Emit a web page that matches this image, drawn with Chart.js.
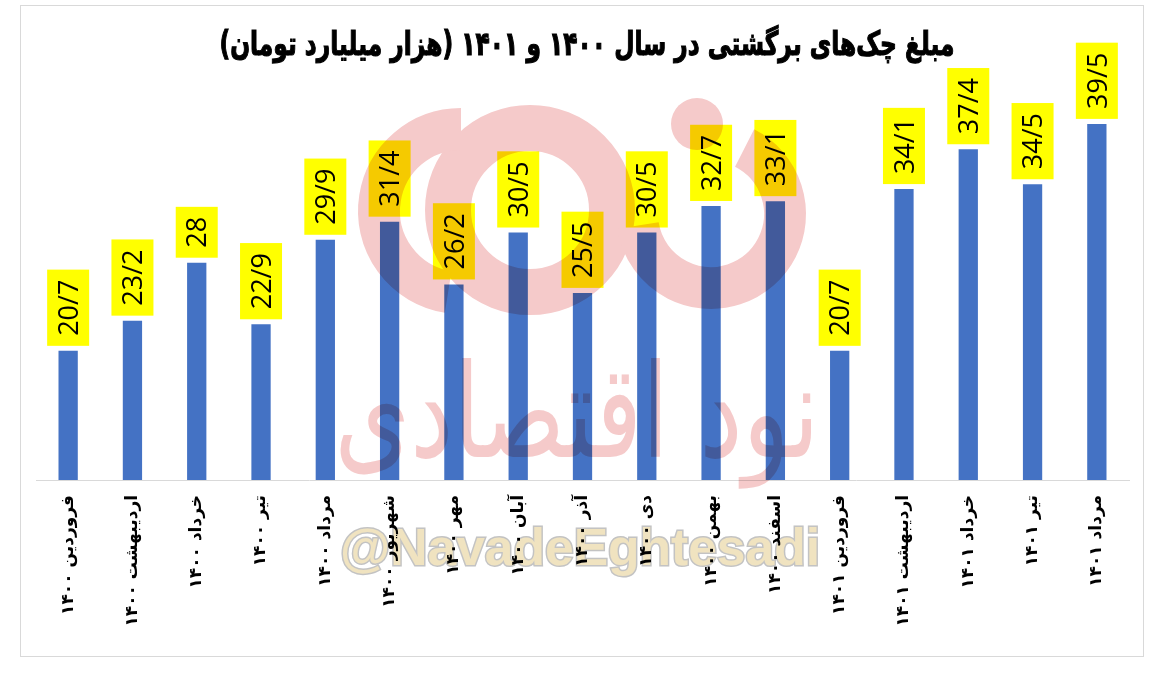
<!DOCTYPE html>
<html>
<head>
<meta charset="utf-8">
<script src="https://cdn.jsdelivr.net/npm/chart.js@4.4.0/dist/chart.umd.min.js"></script>
<style>
  html, body { margin: 0; background: #fff; }
  #frame { position: absolute; left: 20px; top: 5px; width: 1124px; height: 652px; border: 1px solid #d9d9d9; box-sizing: border-box; }
</style>
</head>
<body>
<div id="frame"><canvas id="chequeChart" width="1122" height="650"></canvas></div>
<script>
const months = [
  'فروردین ۱۴۰۰', 'اردیبهشت ۱۴۰۰', 'خرداد ۱۴۰۰', 'تیر ۱۴۰۰', 'مرداد ۱۴۰۰', 'شهریور ۱۴۰۰',
  'مهر ۱۴۰۰', 'آبان ۱۴۰۰', 'آذر ۱۴۰۰', 'دی ۱۴۰۰', 'بهمن ۱۴۰۰', 'اسفند ۱۴۰۰',
  'فروردین ۱۴۰۱', 'اردیبهشت ۱۴۰۱', 'خرداد ۱۴۰۱', 'تیر ۱۴۰۱', 'مرداد ۱۴۰۱'
];
const values = [20.7, 23.2, 28, 22.9, 29.9, 31.4, 26.2, 30.5, 25.5, 30.5, 32.7, 33.1, 20.7, 34.1, 37.4, 34.5, 39.5];
// labels use "/" as the decimal mark, like the source
const valueLabels = values.map(v => String(v).replace('.', '/'));
const chartTitle = 'مبلغ چک‌های برگشتی در سال ۱۴۰۰ و ۱۴۰۱ (هزار میلیارد تومان)';

// yellow boxes with rotated numbers above each bar
const barLabels = {
  id: 'barLabels',
  afterDatasetsDraw(chart) {
    const ctx = chart.ctx;
    const meta = chart.getDatasetMeta(0);
    ctx.save();
    ctx.font = '27px "Open Sans"';
    meta.data.forEach((bar, i) => {
      const txt = valueLabels[i];
      const boxH = ctx.measureText(txt).width + 20;
      const boxW = 42;
      const bottom = bar.y - 5;
      ctx.fillStyle = '#ffff00';
      ctx.fillRect(bar.x - boxW / 2, bottom - boxH, boxW, boxH);
      ctx.save();
      ctx.translate(bar.x + 1, bottom - boxH / 2);
      ctx.rotate(-Math.PI / 2);
      ctx.fillStyle = '#000';
      ctx.textAlign = 'center';
      ctx.textBaseline = 'middle';
      ctx.fillText(txt, 0, 1);
      ctx.restore();
    });
    ctx.restore();
  }
};

// title, drawn by hand so it can be right-to-left
const rtlTitle = {
  id: 'rtlTitle',
  afterDraw(chart) {
    const ctx = chart.ctx;
    ctx.save();
    ctx.direction = 'rtl';
    ctx.font = 'bold 33px "DejaVu Sans"';
    const w = ctx.measureText(chartTitle).width;
    ctx.translate(566, 40);
    ctx.scale(735 / w, 1);
    ctx.textAlign = 'center';
    ctx.textBaseline = 'middle';
    ctx.fillStyle = '#000';
    ctx.lineWidth = 1.2;
    ctx.strokeStyle = '#000';
    ctx.strokeText(chartTitle, 0, 0);
    ctx.fillText(chartTitle, 0, 0);
    ctx.restore();
  }
};

// faint watermark over the chart
const watermark = {
  id: 'watermark',
  afterDraw(chart) {
    const ctx = chart.ctx;
    const off = document.createElement('canvas');
    off.width = chart.width;
    off.height = chart.height;
    const o = off.getContext('2d');
    const pink = 'rgb(245,202,202)';
    o.strokeStyle = pink;
    o.fillStyle = pink;
    // logo
    o.lineWidth = 46;
    o.beginPath(); o.arc(509, 204, 82, 0, Math.PI * 2); o.stroke();
    o.lineWidth = 42;
    o.beginPath(); o.arc(440, 205, 82, Math.PI * 0.55, Math.PI * 1.5); o.stroke();
    o.beginPath(); o.arc(690, 208, 74, -Math.PI * 0.35, Math.PI * 0.95); o.stroke();
    o.beginPath(); o.arc(676, 118, 26, 0, Math.PI * 2); o.fill();
    // name
    o.save();
    o.direction = 'rtl';
    o.font = '130px "DejaVu Sans"';
    const nameTxt = 'نود اقتصادی';
    const nw = o.measureText(nameTxt).width;
    o.translate(556, 451);
    o.scale(485 / nw, 1);
    o.textAlign = 'center';
    o.fillText(nameTxt, 0, 0);
    o.restore();
    // handle
    o.save();
    o.font = 'bold 52px "Liberation Sans"';
    const handle = '@NavadeEghtesadi';
    const hw = o.measureText(handle).width;
    o.translate(559, 559);
    o.scale(480 / hw, 1);
    o.textAlign = 'center';
    o.lineWidth = 3;
    o.strokeStyle = 'rgb(195,195,195)';
    o.fillStyle = 'rgb(240,227,192)';
    o.strokeText(handle, 0, 0);
    o.fillText(handle, 0, 0);
    o.restore();

    ctx.save();
    ctx.globalCompositeOperation = 'multiply';
    ctx.drawImage(off, 0, 0);
    ctx.restore();
  }
};

new Chart(document.getElementById('chequeChart'), {
  type: 'bar',
  data: {
    labels: months,
    datasets: [{
      data: values,
      backgroundColor: '#4472c4',
      barPercentage: 0.6,
      categoryPercentage: 0.5
    }]
  },
  options: {
    responsive: false,
    animation: false,
    layout: { padding: { left: 15, right: 14, top: 51.5, bottom: 5 } },
    plugins: {
      legend: { display: false },
      tooltip: { enabled: false }
    },
    scales: {
      x: {
        grid: { display: false, drawTicks: false },
        border: { color: '#d9d9d9', width: 1 },
        ticks: {
          color: '#000',
          font: { family: 'DejaVu Sans', weight: 'bold', size: 17 },
          minRotation: 90,
          maxRotation: 90,
          padding: 15,
          autoSkip: false
        },
        afterFit: s => { s.height = 171; }
      },
      y: {
        display: false,
        min: 10,
        max: 45
      }
    }
  },
  plugins: [barLabels, rtlTitle, watermark]
});
</script>
</body>
</html>
